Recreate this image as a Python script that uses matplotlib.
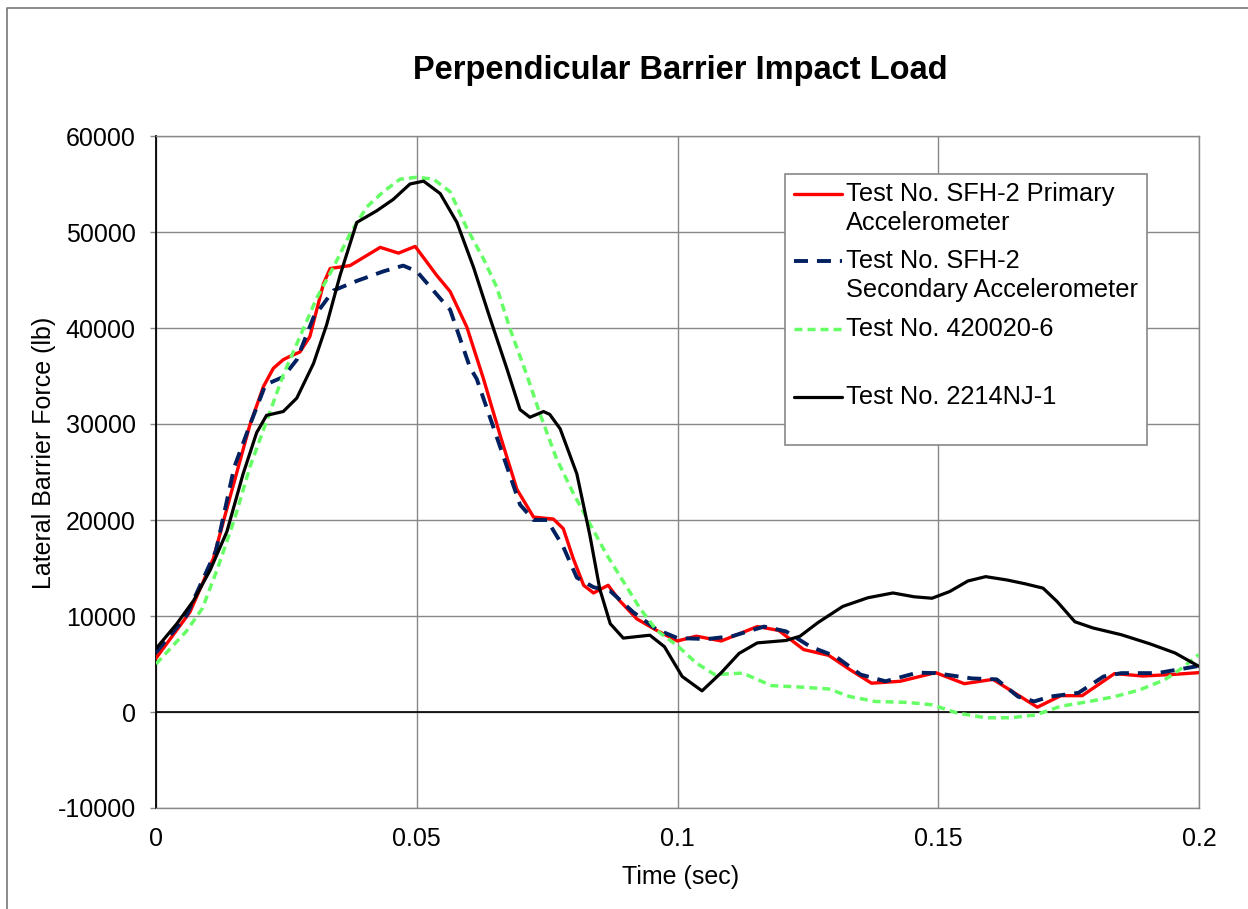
import matplotlib

matplotlib.use("Agg")
import matplotlib.pyplot as plt
from matplotlib.lines import Line2D
from matplotlib.patches import Rectangle

plt.rcParams.update(
    {
        "font.family": ["Liberation Sans", "DejaVu Sans"],
        "font.size": 18,
        "axes.unicode_minus": False,
        "lines.solid_capstyle": "round",
        "lines.solid_joinstyle": "round",
        "lines.dash_capstyle": "butt",
        "lines.dash_joinstyle": "round",
    }
)

W, H = 1248, 909

TITLE = "Perpendicular Barrier Impact Load"
X_LABEL = "Time (sec)"
Y_LABEL = "Lateral Barrier Force (lb)"

X_TICKS = [0, 0.05, 0.1, 0.15, 0.2]
X_TICK_LABELS = ["0", "0.05", "0.1", "0.15", "0.2"]
Y_TICKS = [-10000, 0, 10000, 20000, 30000, 40000, 50000, 60000]

LABELS = [
    ["Test No. SFH-2 Primary", "Accelerometer"],
    ["Test No. SFH-2", "Secondary Accelerometer"],
    ["Test No. 420020-6"],
    ["Test No. 2214NJ-1"],
]

# values (time in s, force in lb)
t_primary = [0.0, 0.0065, 0.011, 0.0142, 0.018, 0.0206, 0.0225, 0.0244, 0.0255,
             0.0276, 0.0295, 0.0321, 0.0334, 0.0372, 0.043, 0.0465, 0.0497,
             0.0538, 0.0564, 0.0596, 0.0628, 0.066, 0.0692, 0.0724, 0.0762,
             0.0781, 0.080, 0.082, 0.0839, 0.0867, 0.0889, 0.0922, 0.096, 0.1,
             0.1036, 0.1084, 0.1153, 0.1194, 0.1242, 0.129, 0.1331, 0.1372,
             0.1427, 0.1495, 0.155, 0.1605, 0.1646, 0.169, 0.1735, 0.1776,
             0.1838, 0.1892, 0.1947, 0.2]
f_primary = [5600, 10400, 16000, 22400, 29900, 33900, 35800, 36700, 37000,
             37500, 39100, 44600, 46200, 46500, 48400, 47800, 48500,
             45500, 43800, 40100, 34700, 28800, 23200, 20300, 20100,
             19100, 16000, 13200, 12400, 13200, 11600, 9700, 8500, 7400,
             7900, 7400, 8900, 8500, 6500, 5900, 4400, 3000,
             3200, 4100, 2950, 3400, 2000, 500, 1700, 1700,
             4000, 3750, 3900, 4100]

t_secondary = [0.0, 0.0058, 0.0115, 0.015, 0.018, 0.021, 0.0244, 0.027, 0.0302,
               0.034, 0.0385, 0.0436, 0.0474, 0.05, 0.0551, 0.0564, 0.0602,
               0.0615, 0.066, 0.0698, 0.0724, 0.075, 0.0781, 0.0807, 0.0839,
               0.0871, 0.0915, 0.096, 0.1, 0.1057, 0.1105, 0.1166, 0.1208,
               0.1255, 0.1303, 0.1351, 0.1399, 0.146, 0.1495, 0.1564, 0.1612,
               0.1653, 0.1684, 0.1714, 0.1769, 0.1817, 0.1851, 0.192, 0.2]
f_secondary = [6200, 10000, 16800, 25500, 29900, 34100, 34900, 36700, 41100,
               43900, 44900, 45900, 46500, 45900, 42700, 41900, 35900,
               34700, 27600, 21600, 20000, 20000, 17200, 14000, 13000,
               12600, 10400, 8600, 7700, 7600, 7900, 8900, 8400,
               6800, 5800, 3900, 3200, 4100, 4050, 3500, 3400,
               1600, 1100, 1600, 2000, 3700, 4050, 4050, 4800]

t_420020 = [0.0, 0.0058, 0.0089, 0.0117, 0.015, 0.018, 0.0212, 0.0244, 0.0276,
            0.0308, 0.034, 0.0372, 0.0404, 0.0436, 0.0468, 0.05, 0.0532,
            0.0564, 0.0596, 0.0628, 0.0653, 0.0679, 0.0711, 0.0736, 0.0768,
            0.08, 0.0832, 0.0864, 0.0896, 0.0928, 0.096, 0.1, 0.1036, 0.1071,
            0.1125, 0.118, 0.1235, 0.129, 0.1331, 0.1379, 0.144, 0.1488,
            0.1536, 0.1591, 0.1639, 0.1687, 0.1735, 0.179, 0.1838, 0.1886,
            0.1934, 0.1968, 0.2]
f_420020 = [5000, 8400, 10800, 14800, 20000, 25500, 30300, 35100, 39100,
            43100, 46300, 49800, 52600, 54200, 55500, 55700, 55500,
            54200, 50400, 47200, 44300, 39900, 35100, 31100, 26400,
            22800, 19600, 16400, 13600, 10800, 8500, 6900, 5100, 3900,
            4050, 2750, 2600, 2400, 1600, 1100, 1000, 750,
            -100, -600, -600, -300, 600, 1100, 1600, 2300,
            3350, 4600, 6000]

t_2214nj = [0.0, 0.004, 0.0072, 0.0104, 0.0136, 0.0167, 0.0193, 0.0212, 0.0244,
            0.027, 0.0302, 0.0327, 0.0353, 0.0385, 0.0423, 0.0455, 0.0487,
            0.0513, 0.0545, 0.0577, 0.0609, 0.064, 0.0672, 0.0698, 0.0717,
            0.0743, 0.0755, 0.0775, 0.0807, 0.0832, 0.0851, 0.0871, 0.0896,
            0.0947, 0.0975, 0.1009, 0.1047, 0.1084, 0.1118, 0.1153, 0.1208,
            0.1235, 0.1269, 0.1317, 0.1365, 0.1413, 0.1454, 0.1488, 0.1522,
            0.1557, 0.1591, 0.1632, 0.1667, 0.1701, 0.1728, 0.1762, 0.1797,
            0.1851, 0.1906, 0.1954, 0.2]
f_2214nj = [6600, 9200, 11600, 14800, 18800, 24800, 29100, 30900, 31300,
            32700, 36300, 40300, 45500, 51000, 52200, 53400, 55000,
            55300, 54000, 51000, 46300, 41100, 35900, 31500, 30700,
            31300, 31000, 29500, 24800, 18400, 12800, 9200, 7700,
            8000, 6800, 3700, 2200, 4100, 6100, 7200, 7450,
            7900, 9300, 11000, 11900, 12400, 12000, 11850, 12550,
            13650, 14100, 13750, 13350, 12900, 11500, 9400, 8750,
            8050, 7100, 6150, 4750]

STYLES = [
    dict(color="#FF0000", lw=2.4, ls="-"),
    dict(color="#002060", lw=2.8, ls=(0, (3.6, 2.3))),
    dict(color="#66FF66", lw=2.5, ls=(0, (2.3, 1.45))),
    dict(color="#000000", lw=2.3, ls="-"),
]

GRID = "#888888"


def px(x, y):
    return x / W, 1 - y / H


fig = plt.figure(figsize=(W / 100, H / 100), dpi=100)
left, top = px(156, 136)
right, bottom = px(1199, 808)
ax = fig.add_axes([left, bottom, right - left, top - bottom])

series = [(t_primary, f_primary), (t_secondary, f_secondary),
          (t_420020, f_420020), (t_2214nj, f_2214nj)]
for i, ((t, f), st) in enumerate(zip(series, STYLES)):
    ax.plot(t, f, zorder=3 + i, **st)

ax.set_xlim(0, 0.2)
ax.set_ylim(-10000, 60000)
ax.set_xticks(X_TICKS)
ax.set_xticklabels(X_TICK_LABELS)
ax.set_yticks(Y_TICKS)
ax.set_yticklabels([str(v) for v in Y_TICKS])
ax.grid(True, color=GRID, lw=1.0)
ax.axhline(0, color="black", lw=1.2, zorder=2)
ax.tick_params(axis="y", length=4.5, width=1, color=GRID, pad=10, labelsize=18)
ax.tick_params(axis="x", length=0, pad=14, labelsize=18)
for name in ("top", "right", "bottom"):
    ax.spines[name].set_color(GRID)
    ax.spines[name].set_linewidth(1)
ax.spines["left"].set_color("black")
ax.spines["left"].set_linewidth(1.3)

fig.text(*px(680, 70), TITLE, fontsize=23.5, fontweight="bold", ha="center", va="center")
fig.text(*px(681, 877), X_LABEL, fontsize=18, ha="center", va="center")
fig.text(*px(44, 453), Y_LABEL, fontsize=18, ha="center", va="center", rotation=90)

# legend box drawn by hand so the handles sit on the first text line
bx0, by0 = px(785, 445)
bx1, by1 = px(1147, 174)
fig.add_artist(Rectangle((bx0, by0), bx1 - bx0, by1 - by0, transform=fig.transFigure,
                         facecolor="white", edgecolor=GRID, lw=1.2, zorder=10))
row_y = [[194, 223], [261, 290], [329], [397]]
for lines, ys, st in zip(LABELS, row_y, STYLES):
    hx0, hy = px(794, ys[0])
    hx1, _ = px(842, ys[0])
    fig.add_artist(Line2D([hx0, hx1], [hy, hy], transform=fig.transFigure, zorder=11, **st))
    for text, y in zip(lines, ys):
        fig.text(*px(846, y), text, fontsize=18.3, ha="left", va="center", zorder=12)

# outer chart border (only left and top edges are visible in the frame)
fig.add_artist(Line2D([7 / W, 7 / W, 1.01], [-0.01, 1 - 8 / H, 1 - 8 / H],
                      transform=fig.transFigure, color="#777777", lw=1.2))

fig.savefig("out.png", dpi=100)
